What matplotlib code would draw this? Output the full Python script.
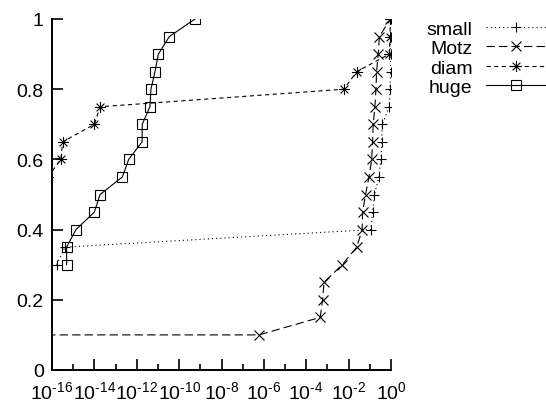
import numpy as np
import matplotlib
matplotlib.use("Agg")
import matplotlib.pyplot as plt
from matplotlib.path import Path
from matplotlib.ticker import FixedLocator, FuncFormatter

plt.rcParams['font.family'] = ['Liberation Sans', 'DejaVu Sans']
plt.rcParams['mathtext.fontset'] = 'custom'
plt.rcParams['mathtext.rm'] = 'Liberation Sans'
plt.rcParams['mathtext.it'] = 'Liberation Sans'
plt.rcParams['lines.scale_dashes'] = False

# log10 of x; y is the fraction
small_exp = [-15.78, -15.39, -0.95, -0.87, -0.78, -0.57, -0.47, -0.44, -0.41,
             -0.08, -0.05, -0.02, -0.01, -0.01, 0.0]
small_y = [0.30, 0.35, 0.40, 0.45, 0.50, 0.55, 0.60, 0.65, 0.70,
           0.75, 0.80, 0.85, 0.90, 0.95, 1.0]

motz_exp = [-18.0, -6.23, -3.34, -3.23, -3.16, -2.30, -1.62, -1.36, -1.34,
            -1.20, -1.04, -0.91, -0.87, -0.84, -0.76, -0.71, -0.68, -0.60,
            -0.55, -0.03]
motz_y = [0.10, 0.10, 0.15, 0.20, 0.25, 0.30, 0.35, 0.40, 0.45,
          0.50, 0.55, 0.60, 0.65, 0.70, 0.75, 0.80, 0.85, 0.90,
          0.95, 1.0]

diam_exp = [-16.2, -15.58, -15.5, -14.0, -13.73, -2.22, -1.62, -0.08, -0.05, -0.03]
diam_y = [0.55, 0.60, 0.65, 0.70, 0.75, 0.80, 0.85, 0.90, 0.95, 1.0]

huge_exp = [-15.31, -15.31, -14.87, -14.0, -13.73, -12.68, -12.38, -11.75,
            -11.74, -11.38, -11.33, -11.14, -10.98, -10.46, -9.25]
huge_y = [0.30, 0.35, 0.40, 0.45, 0.50, 0.55, 0.60, 0.65,
          0.70, 0.75, 0.80, 0.85, 0.90, 0.95, 1.0]

# gnuplot style asterisk: plus and cross together
d = 0.7
asterisk = Path([(-1, 0), (1, 0), (0, -1), (0, 1), (-d, -d), (d, d), (-d, d), (d, -d)],
                [Path.MOVETO, Path.LINETO] * 4)

fig = plt.figure(figsize=(5.46, 4.02), dpi=100)
ax = fig.add_axes([52/546, 31/402, 339/546, 351/402])

lw = 0.8
ax.plot(10.0 ** np.array(small_exp), small_y, color='black', lw=lw,
        linestyle=(0, (0.8, 2.2)), marker='+', ms=7, mew=0.8, label='small')
ax.plot(10.0 ** np.array(motz_exp), motz_y, color='black', lw=lw,
        linestyle=(0, (6, 3)), marker='x', ms=7.5, mew=0.8, label='Motz')
ax.plot(10.0 ** np.array(diam_exp), diam_y, color='black', lw=lw,
        linestyle=(0, (3, 2.5)), marker=asterisk, ms=8, mew=0.8, mfc='none', label='diam')
ax.plot(10.0 ** np.array(huge_exp), huge_y, color='black', lw=lw,
        linestyle='-', marker='s', ms=7, mew=0.8, mfc='none', label='huge')

ax.set_xscale('log')
ax.set_xlim(1e-16, 1)
ax.set_ylim(0, 1)

for s in ['top', 'right']:
    ax.spines[s].set_visible(False)
for s in ['left', 'bottom']:
    ax.spines[s].set_linewidth(1.4)

ax.xaxis.set_major_locator(FixedLocator([10.0 ** e for e in range(-16, 1, 2)]))
ax.xaxis.set_minor_locator(FixedLocator([10.0 ** e for e in range(-15, 0, 2)]))
ax.xaxis.set_major_formatter(FuncFormatter(
    lambda v, p: r'$10^{\text{%d}}$' % int(round(np.log10(v)))))
ax.xaxis.set_minor_formatter(FuncFormatter(lambda v, p: ''))
ax.set_yticks([0, 0.2, 0.4, 0.6, 0.8, 1.0])
ax.yaxis.set_major_formatter(FuncFormatter(lambda v, p: '%g' % v))

ax.tick_params(which='major', direction='in', length=8, width=1.2, labelsize=14, pad=6)
ax.tick_params(which='minor', direction='in', length=4, width=1.2)
ax.tick_params(axis='x', which='major', pad=7)

fig.legend(loc='upper right', bbox_to_anchor=(1.0, 0.948), frameon=False,
           markerfirst=False, handlelength=3.1, handletextpad=0.67,
           labelspacing=0.1, borderpad=0, borderaxespad=0, fontsize=14)

fig.savefig('out.png', dpi=100)
